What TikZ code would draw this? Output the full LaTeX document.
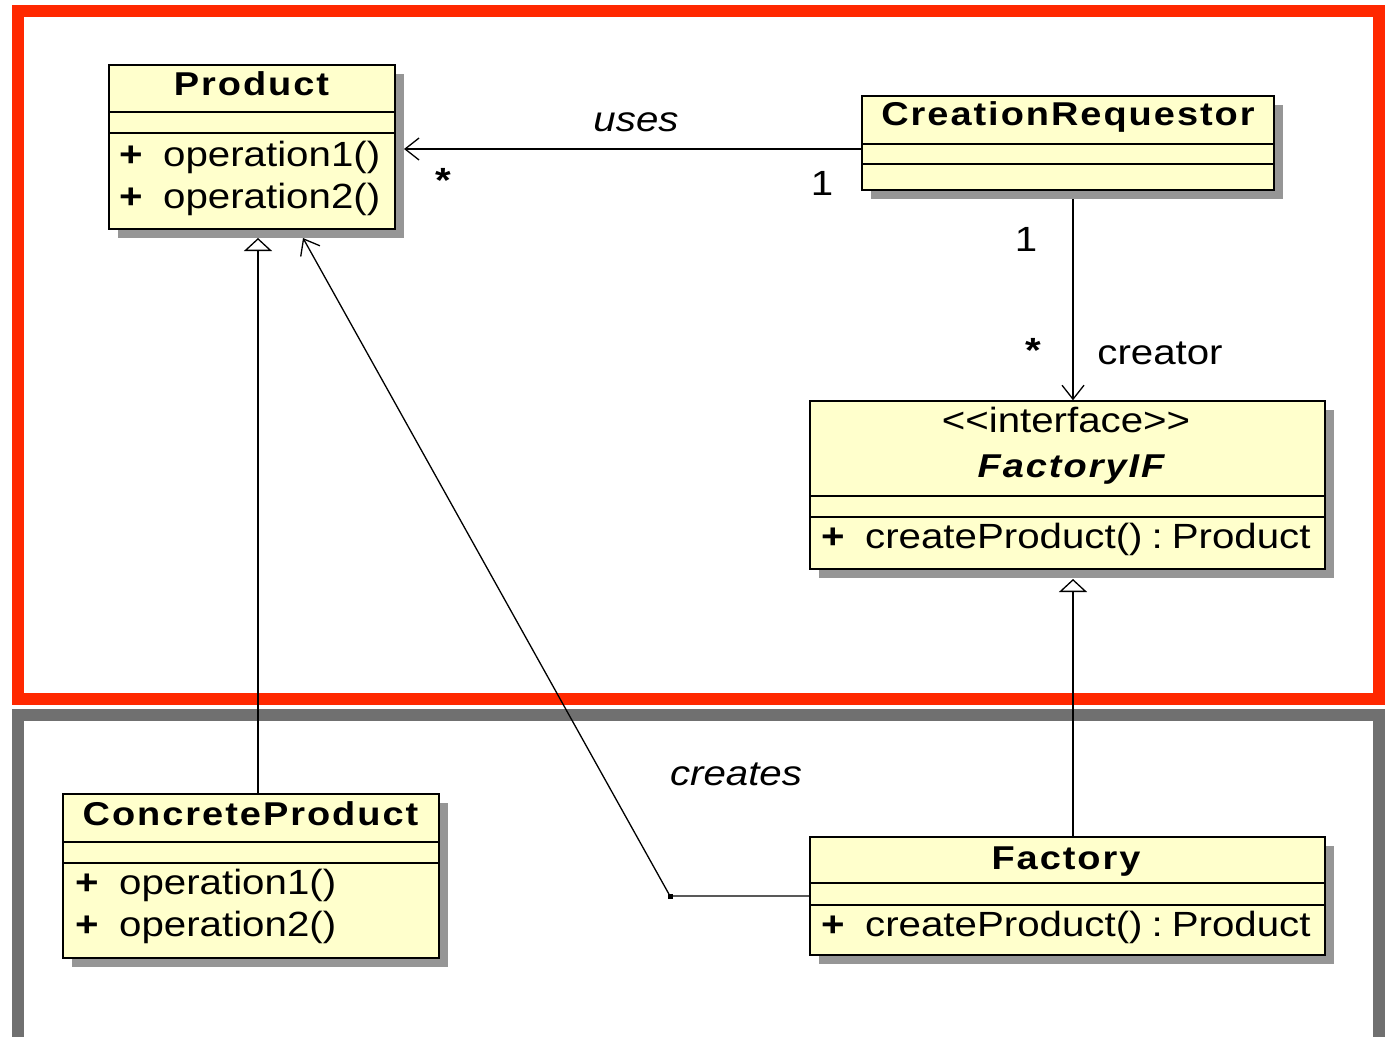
\documentclass[tikz,border=0pt]{standalone}
\usepackage{fontspec}
\setmainfont{Liberation Sans}[FakeStretch=1.15]
\newfontfamily\titlef{Liberation Sans}[FakeStretch=1.15,LetterSpace=6]
\usetikzlibrary{arrows.meta,shadows}
\definecolor{framered}{RGB}{255,40,0}
\definecolor{framegray}{RGB}{112,112,112}
\definecolor{classfill}{RGB}{255,255,204}
\definecolor{shadowgray}{RGB}{150,150,150}
\newcommand\plusrow[1]{\makebox[44pt][l]{\textbf{+}}#1}
\begin{document}
\begin{tikzpicture}[x=1pt,y=-1pt,
 classbox/.style={draw=black, line width=1.5pt, fill=classfill, inner sep=0pt,
   drop shadow={shadow xshift=9pt, shadow yshift=-9pt, fill=shadowgray, opacity=1}},
 title/.style={font=\titlef\bfseries\fontsize{33}{38}\selectfont, anchor=base, inner sep=0pt},
 txt/.style={font=\fontsize{35}{40}\selectfont, anchor=base, inner sep=0pt},
 itl/.style={font=\fontsize{35}{40}\selectfont\itshape, anchor=base, inner sep=0pt},
 row/.style={txt, anchor=base west},
 sep/.style={line width=1.5pt},
 conn/.style={line width=1.3pt},
 openarrow/.style={conn, -{Straight Barb[length=14pt,width=22pt,line width=1.3pt]}},
 gen/.style={conn, -{Triangle[open, length=13pt, width=28pt, fill=white, line width=1.3pt]}},
 frame/.style={line width=12pt},
]
\useasboundingbox (0,0) rectangle (1388,1036);
\clip (0,0) rectangle (1388,1036);
% frames
\draw[frame, draw=framered] (18,11) rectangle (1379,699);
\draw[frame, draw=framegray] (18,715) rectangle (1379,1045);

% Product
\node[classbox, minimum width=286pt, minimum height=164pt] (product) at (252,147) {};
\draw[sep] (product.west |- 0,112) -- (product.east |- 0,112);
\draw[sep] (product.west |- 0,133) -- (product.east |- 0,133);
\node[title] (productT) at (251.5,95) {Product};
\node[row] (productR1) at (119,166) {\plusrow{operation1()}};
\node[row] (productR2) at (119,208) {\plusrow{operation2()}};

% CreationRequestor
\node[classbox, minimum width=412pt, minimum height=94pt] (cr) at (1068,143) {};
\draw[sep] (cr.west |- 0,144) -- (cr.east |- 0,144);
\draw[sep] (cr.west |- 0,164) -- (cr.east |- 0,164);
\node[title] (crT) at (1068,125) {CreationRequestor};

% FactoryIF
\node[classbox, minimum width=515pt, minimum height=168pt] (fif) at (1067.5,485) {};
\draw[sep] (fif.west |- 0,496) -- (fif.east |- 0,496);
\draw[sep] (fif.west |- 0,517) -- (fif.east |- 0,517);
\node[txt] (fifS) at (1066,432) {<{}<interface>{}>};
\node[title, font=\titlef\bfseries\itshape\fontsize{33}{38}\selectfont] (fifT) at (1071,477) {FactoryIF};
\node[row] (fifR1) at (821,548) {\plusrow{createProduct()\hspace{9pt}:\hspace{9pt}Product}};

% ConcreteProduct
\node[classbox, minimum width=376pt, minimum height=164pt] (cprod) at (251,876) {};
\draw[sep] (cprod.west |- 0,842) -- (cprod.east |- 0,842);
\draw[sep] (cprod.west |- 0,863) -- (cprod.east |- 0,863);
\node[title] (cprodT) at (250.5,825) {ConcreteProduct};
\node[row] (cprodR1) at (75,894) {\plusrow{operation1()}};
\node[row] (cprodR2) at (75,936) {\plusrow{operation2()}};

% Factory
\node[classbox, minimum width=515pt, minimum height=118pt] (factory) at (1067.5,896) {};
\draw[sep] (factory.west |- 0,883) -- (factory.east |- 0,883);
\draw[sep] (factory.west |- 0,905) -- (factory.east |- 0,905);
\node[title] (factoryT) at (1066,869) {Factory};
\node[row] (factoryR1) at (821,936) {\plusrow{createProduct()\hspace{9pt}:\hspace{9pt}Product}};

% connectors
\coordinate (usesEnd) at (404,149);
\draw[openarrow] (cr.west |- usesEnd) -- (usesEnd);
\coordinate (crBot) at (1073,199);
\draw[openarrow] (crBot) -- (fif.north -| crBot);
\coordinate (fifTip) at (1073,579);
\draw[gen] (factory.north -| fifTip) -- (fifTip);
\coordinate (prodTip) at (258,238);
\draw[gen] (cprod.north -| prodTip) -- (prodTip);
\coordinate (bend) at (670,896);
\coordinate (createsTip) at (303,238);
\draw[openarrow] (factory.west |- bend) -- (bend) -- (createsTip);
\node[fill=black, minimum size=5pt, inner sep=0pt] (bendDot) at (bend) {};

% labels
\node[itl] (usesL) at (636,131) {uses};
\node[txt, font=\bfseries\fontsize{35}{40}\selectfont] (usesM1) at (443,192) {*};
\node[txt] (usesM2) at (822,195) {1};
\node[txt] (crM1) at (1026,251) {1};
\node[txt, font=\bfseries\fontsize{35}{40}\selectfont] (crM2) at (1033,362) {*};
\node[txt] (creatorL) at (1160,364) {creator};
\node[itl] (createsL) at (736,785) {creates};
\end{tikzpicture}
\end{document}
